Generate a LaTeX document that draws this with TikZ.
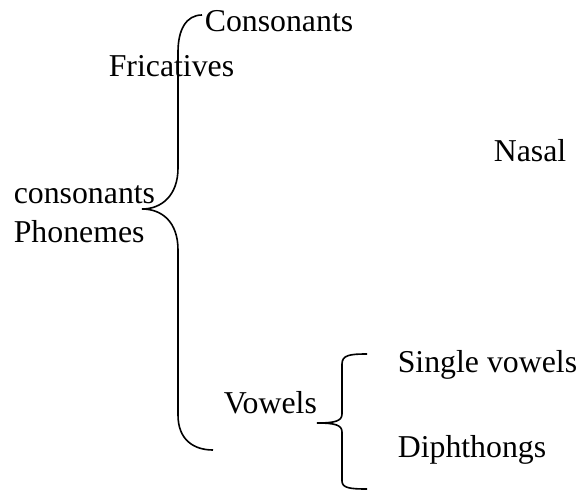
\documentclass[tikz,border=0pt]{standalone}
\usepackage{fontspec}
\setmainfont{Liberation Serif}
\usetikzlibrary{calc}

\begin{document}
\begin{tikzpicture}[x=0.5pt, y=-0.5pt, line width =0.8pt,
  word/.style={anchor=base west, inner sep=0pt, font=\fontsize{15.9}{18}\selectfont}]
  \useasboundingbox (0,0) rectangle (588,492);

  \node[word] (cons) at (204,32) {Consonants};
  \node[word] (fric) at (108,76) {Fricatives};
  \node[word] (nasal) at (493,161) {Nasal};
  \node[word] (cons2) at (13,203) {consonants};
  \node[word] (phon) at (13,242) {Phonemes};
  \node[word] (vow) at (223,413) {Vowels};
  \node[word] (single) at (397,372) {Single vowels};
  \node[word] (diph) at (397,457) {Diphthongs};

  % big brace
  \draw (202,15) .. controls (186,15) and (178,30) .. (178,52)
    -- (178,168) .. controls (178,195) and (162,209) .. (142,209)
    .. controls (162,209) and (178,222) .. (178,250)
    -- (178,415) .. controls (178,440) and (194,450) .. (213,450);
  % small brace
  \draw (367,354) .. controls (350,354) and (342,355) .. (342,364)
    -- (342,414) .. controls (342,421) and (335,423) .. (317,423)
    .. controls (335,423) and (342,425) .. (342,432)
    -- (342,481) .. controls (342,488) and (350,489) .. (367,489);
\end{tikzpicture}
\end{document}
